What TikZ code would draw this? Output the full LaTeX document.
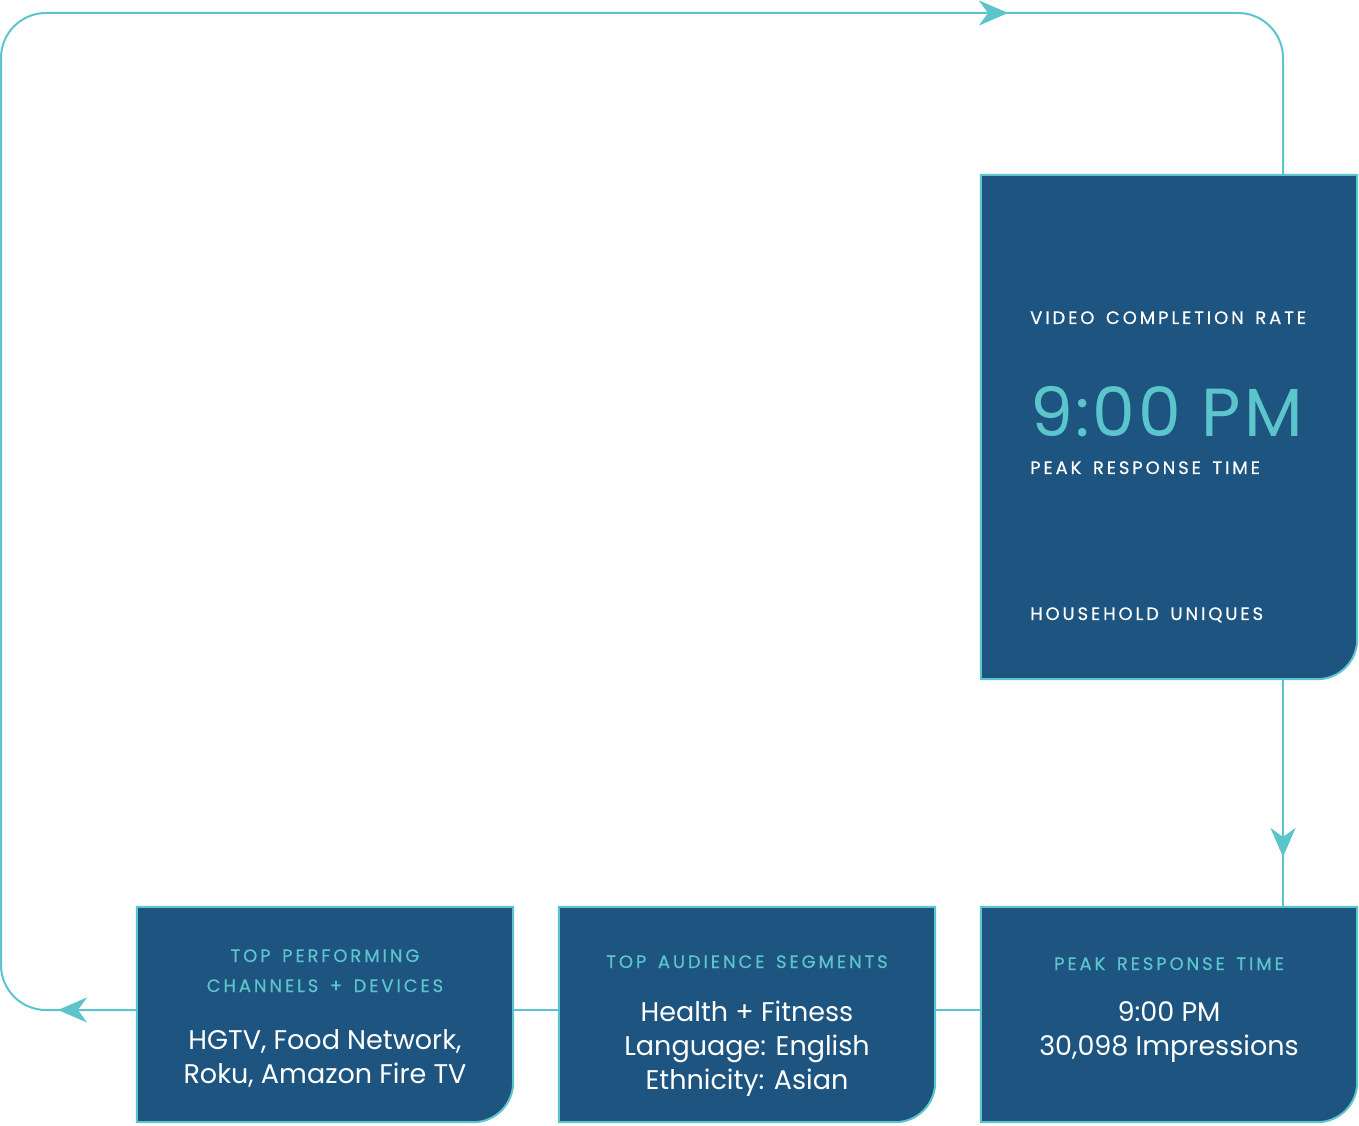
\documentclass[tikz,border=0pt]{standalone}
\usepackage{fontspec}
\setmainfont{Poppins}
\newfontfamily\labfam{Poppins}[LetterSpace=16,WordSpace=1.5,FakeBold=0.5]
\usetikzlibrary{arrows.meta,calc}
\definecolor{boxblue}{HTML}{1E5480}
\definecolor{lineteal}{HTML}{5BC5CB}
\newcommand{\shapebox}[1]{\draw[boxst] (#1.north west) -- (#1.north east) -- ([yshift=40pt]#1.south east) arc[start angle=0,end angle=-90,radius=40pt] -- (#1.south west) -- cycle;}
\newcommand{\labfont}{\labfam\fontsize{18}{20}\selectfont}
\newcommand{\bodyfont}{\fontsize{27}{30}\selectfont}
\begin{document}
\begin{tikzpicture}[x=1pt,y=1pt,
  frame/.style={draw=none,inner sep=0pt,minimum width=376pt},
  boxst/.style={fill=boxblue,draw=lineteal,line width=2pt},
  flow/.style={draw=lineteal,line width=2pt},
  tipst/.style={lineteal,line width=2pt,-{Stealth[length=29pt,width=25pt,inset=9pt]}},
  wlab/.style={font=\labfont,text=white,anchor=base west,inner sep=0pt},
  tlab/.style={font=\labfont,text=lineteal,anchor=base,inner sep=0pt},
  body/.style={font=\bodyfont,text=white,anchor=base,inner sep=0pt}]
\useasboundingbox (0,0) rectangle (1359,1125);
% frames
\node[frame,minimum height=504pt] (big) at (1169,698) {};
\node[frame,minimum height=215pt] (b1) at (325,110.5) {};
\node[frame,minimum height=215pt] (b2) at (747,110.5) {};
\node[frame,minimum height=215pt] (b3) at (1169,110.5) {};
% route coordinates
\coordinate (col) at (1283,0);
\coordinate (tl) at (1,1112);
\coordinate (bl) at (1,115);
\coordinate (a1t) at (978,1112);
\coordinate (a1) at (1008,1112);
\coordinate (a2t) at (1283,298);
\coordinate (a2) at (1283,268);
\coordinate (a3t) at (88,115);
\coordinate (a3) at (58,115);
% connectors
\draw[flow,rounded corners=45pt] (big.north -| col) -- (col |- tl) -- (tl) -- (bl) -- (b1.west |- bl);
\draw[flow] (big.south -| col) -- (b3.north -| col);
\draw[flow] (b3.west |- bl) -- (b2.east |- bl);
\draw[flow] (b2.west |- bl) -- (b1.east |- bl);
\draw[tipst] (a1t) -- (a1);
\draw[tipst] (a2t) -- (a2);
\draw[tipst] (a3t) -- (a3);
% boxes
\shapebox{big}
\shapebox{b1}
\shapebox{b2}
\shapebox{b3}
% big box text
\node[wlab] (t1) at (1030,801) {VIDEO COMPLETION RATE};
\node[anchor=base west,inner sep=0pt,text=lineteal,font=\fontsize{68}{72}\selectfont\addfontfeature{LetterSpace=4}] (t2) at (1030,688) {9:00 PM};
\node[wlab] (t3) at (1030,651) {PEAK RESPONSE TIME};
\node[wlab] (t4) at (1030,505) {HOUSEHOLD UNIQUES};
% box1
\node[tlab] (p1) at (325,163) {TOP PERFORMING};
\node[tlab] (p2) at (325,133) {CHANNELS + DEVICES};
\node[body] (p3) at (325,76) {HGTV, Food Network,};
\node[body] (p4) at (325,42) {Roku, Amazon Fire TV};
% box2
\node[tlab] (q1) at (747,157) {TOP AUDIENCE SEGMENTS};
\node[body] (q2) at (747,104) {Health + Fitness};
\node[body] (q3) at (747,70) {Language: English};
\node[body] (q4) at (747,36) {Ethnicity: Asian};
% box3
\node[tlab] (r1) at (1169,155) {PEAK RESPONSE TIME};
\node[body] (r2) at (1169,104) {9:00 PM};
\node[body] (r3) at (1169,70) {30,098 Impressions};
\end{tikzpicture}
\end{document}
